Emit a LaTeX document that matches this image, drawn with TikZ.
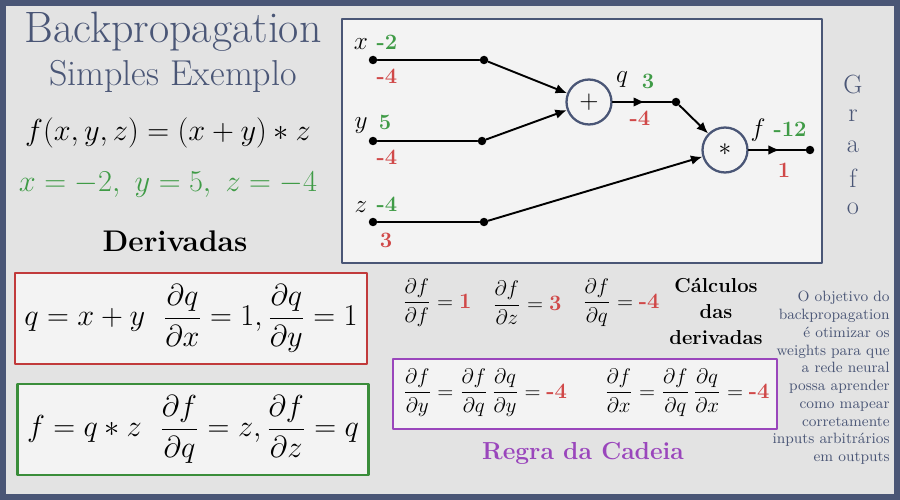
\documentclass[tikz,border=0pt]{standalone}
\usepackage{amsmath,amssymb}
\usetikzlibrary{arrows.meta,decorations.markings}

\definecolor{ardosia}{HTML}{4A5676}
\definecolor{painel}{HTML}{E3E3E3}
\definecolor{fundocaixa}{HTML}{F3F3F3}
\definecolor{verde}{HTML}{3F9B46}
\definecolor{vermelho}{HTML}{D04848}
\definecolor{bordavermelha}{HTML}{C13A3B}
\definecolor{bordaverde}{HTML}{3A8D3A}
\definecolor{roxo}{HTML}{9A46BC}

\tikzset{
    ponto/.style={circle,fill=black,inner sep=0pt,minimum size=0.17cm},
    op/.style={circle,draw=ardosia,line width=1.3pt,fill=fundocaixa,
        minimum size=0.9cm,inner sep=0pt,font=\fontsize{14}{16}\selectfont},
    linha/.style={line width=1.1pt},
    seta/.style={linha,-{Latex[length=6.5pt,width=5.5pt]}},
    meio/.style={linha,postaction={decorate},decoration={markings,
        mark=at position 0.55 with {\arrow{Latex[length=6.5pt,width=5.5pt]}}}},
    rotulo/.style={font=\fontsize{14}{16}\selectfont},
    num/.style={font=\fontsize{12.5}{14}\selectfont\bfseries},
    caixa/.style={line width=1.5pt,fill=fundocaixa,inner sep=0pt},
    letra/.style={text=ardosia,font=\fontsize{15}{17}\selectfont},
    deriv/.style={font=\fontsize{12.5}{15}\selectfont}
}

\begin{document}
\begin{tikzpicture}[x=0.02cm,y=-0.02cm,line cap=round,line join=round]
\useasboundingbox (0,0) rectangle (900,500);
% fundo
\fill[ardosia] (0,0) rectangle (900,500);
\fill[painel] (6,6) rectangle (894,494);

% titulo
\node[text=ardosia,font=\fontsize{25}{28}\selectfont] (titulo) at (173,32) {Backpropagation};
\node[text=ardosia,font=\fontsize{20.5}{23}\selectfont] (subtitulo) at (173,76) {Simples Exemplo};
\node[font=\fontsize{18}{21}\selectfont] (funcao) at (168,133) {$f(x,y,z) = (x + y) * z$};
\node[text=verde,font=\fontsize{17.5}{21}\selectfont] (valores) at (168,185) {$x = -2,\ y = 5,\ z = -4$};
\node[font=\fontsize{17}{20}\selectfont\bfseries] (derivadas) at (175,241) {Derivadas};

% grafo
\draw[ardosia,line width=1.5pt,fill=fundocaixa] (342,19) rectangle (822,263);
\foreach \nome/\x/\y in {
    xin/373/60,
    xmid/484/60,
    yin/373/141,
    ymid/482/141,
    zin/373/222,
    zmid/484/222,
    qmid/676/102,
    fout/810/150
}
{
    \node[ponto] (\nome) at (\x,\y) {};
}
\node[op] (soma) at (589,102) {$+$};
\node[op] (mult) at (725,150) {$*$};

\draw[linha] (xin) -- (xmid);
\draw[linha] (yin) -- (ymid);
\draw[linha] (zin) -- (zmid);
\draw[seta] (xmid) -- (soma);
\draw[seta] (ymid) -- (soma);
\draw[seta] (zmid) -- (mult);
\draw[seta] (qmid) -- (mult);
\draw[meio] (soma) -- (qmid);
\draw[meio] (mult) -- (fout);

\node[rotulo] (lx) at (361,44) {$x$};
\node[num,text=verde] (vx) at (387,42) {-2};
\node[num,text=vermelho] (gx) at (387,76) {-4};
\node[rotulo] (ly) at (361,126) {$y$};
\node[num,text=verde] (vy) at (385,122) {5};
\node[num,text=vermelho] (gy) at (387,157) {-4};
\node[rotulo] (lz) at (361,207) {$z$};
\node[num,text=verde] (vz) at (387,204) {-4};
\node[num,text=vermelho] (gz) at (386,240) {3};
\node[rotulo] (lq) at (622,80) {$q$};
\node[num,text=verde] (vq) at (648,81) {3};
\node[num,text=vermelho] (gq) at (640,118) {-4};
\node[rotulo] (lf) at (758,130) {$f$};
\node[num,text=verde] (vf) at (790,129) {-12};
\node[num,text=vermelho] (gf) at (784,170) {1};

\foreach \l [count=\i] in {G,r,a,f,o}
{
    \node[letra] (grafo\i) at (853,54+31*\i) {\l};
}

% regras locais
\node[caixa,draw=bordavermelha,minimum width=7.04cm,minimum height=1.82cm,
    font=\fontsize{17}{20}\selectfont] (regraq) at (191,318.5)
    {$q = x + y\ \ \dfrac{\partial q}{\partial x} = 1, \dfrac{\partial q}{\partial y} = 1$};
\node[caixa,draw=bordaverde,minimum width=7.02cm,minimum height=1.82cm,
    font=\fontsize{17}{20}\selectfont] (regraf) at (193,429.5)
    {$f = q * z\ \ \dfrac{\partial f}{\partial q} = z, \dfrac{\partial f}{\partial z} = q$};

% calculos
\node[deriv] (dff) at (437,303) {$\dfrac{\partial f}{\partial f} = \textcolor{vermelho}{\textbf{1}}$};
\node[deriv] (dfz) at (527,303) {$\dfrac{\partial f}{\partial z} = \textcolor{vermelho}{\textbf{3}}$};
\node[deriv] (dfq) at (621,303) {$\dfrac{\partial f}{\partial q} = \textcolor{vermelho}{\textbf{-4}}$};
\node[align=center,font=\fontsize{11.5}{14.8}\selectfont\bfseries] (calculos) at (716,311)
    {Cálculos\\das\\derivadas};

% regra da cadeia
\node[caixa,draw=roxo,minimum width=7.68cm,minimum height=1.4cm] (cadeia) at (585,394) {};
\node[deriv] (dfy) at (485,393)
    {$\dfrac{\partial f}{\partial y} = \dfrac{\partial f}{\partial q}\,\dfrac{\partial q}{\partial y} = \textcolor{vermelho}{\textbf{-4}}$};
\node[deriv] (dfx) at (687,393)
    {$\dfrac{\partial f}{\partial x} = \dfrac{\partial f}{\partial q}\,\dfrac{\partial q}{\partial x} = \textcolor{vermelho}{\textbf{-4}}$};
\node[text=roxo,font=\fontsize{14}{16}\selectfont\bfseries] (nomecadeia) at (583,453) {Regra da Cadeia};

% nota
\node[anchor=east,align=right,text=ardosia,font=\fontsize{8.5}{10.1}\selectfont,inner sep=0pt]
    (objetivo) at (890,378)
    {O objetivo do\\backpropagation\\é otimizar os\\weights para que\\a rede neural\\possa aprender\\como mapear\\corretamente\\inputs arbitrários\\em outputs};
\end{tikzpicture}
\end{document}
